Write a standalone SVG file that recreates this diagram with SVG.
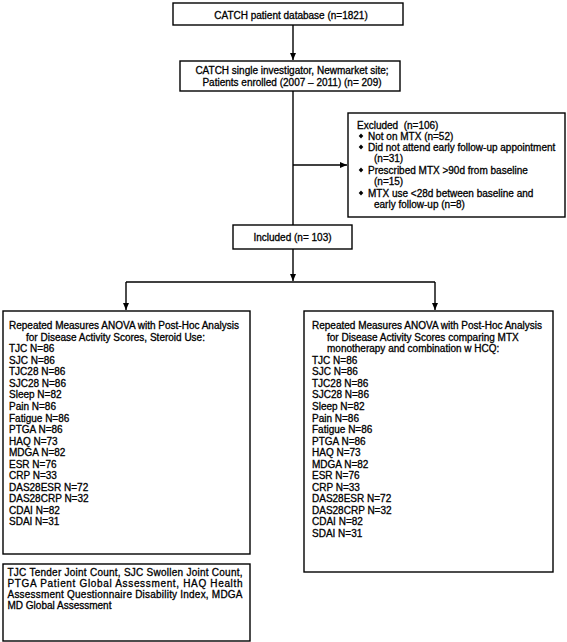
<svg xmlns="http://www.w3.org/2000/svg" width="567" height="642" viewBox="0 0 567 642">
<style>
.box{fill:#fff;stroke:#000;stroke-width:1.4}
.t{font-family:"Liberation Sans",Arial,sans-serif;font-size:10px;fill:#000;stroke:#000;stroke-width:0.3}
.c{text-anchor:middle}
.ln{stroke:#000;stroke-width:1.4;fill:none}
</style>
<defs>
<marker id="ah" markerWidth="8" markerHeight="8" refX="7" refY="4" orient="auto" markerUnits="userSpaceOnUse">
<path d="M0,1 L7,4 L0,7 Z" fill="#000"/>
</marker>
<polygon id="dm" points="0,-2.5 2.3,0 0,2.5 -2.3,0" fill="#000"/>
</defs>
<rect width="567" height="642" fill="#fff"/>
<g id="connectors">
<line class="ln" x1="293" y1="25" x2="293" y2="60" marker-end="url(#ah)"/>
<line class="ln" x1="293" y1="91" x2="293" y2="225"/>
<line class="ln" x1="293" y1="165" x2="347" y2="165" marker-end="url(#ah)"/>
<line class="ln" x1="293" y1="249" x2="293" y2="281" marker-end="url(#ah)"/>
<line class="ln" x1="126" y1="282" x2="435" y2="282"/>
<line class="ln" x1="126" y1="282" x2="126" y2="310" marker-end="url(#ah)"/>
<line class="ln" x1="435" y1="282" x2="435" y2="310" marker-end="url(#ah)"/>
</g>
<g id="database">
<rect class="box" x="173" y="3" width="230" height="22"/>
<text class="t c" x="291" y="18.6">CATCH patient database (n=1821)</text>
</g>
<g id="single-investigator">
<rect class="box" x="180" y="61" width="220" height="30"/>
<text class="t c" x="292" y="73.6">CATCH single investigator, Newmarket site;</text>
<text class="t c" x="292" y="85.6">Patients enrolled (2007 – 2011) (n= 209)</text>
</g>
<g id="excluded">
<rect class="box" x="348" y="113" width="217" height="104"/>
<text class="t" x="357" y="128.6" xml:space="preserve">Excluded  (n=106)</text>
<use href="#dm" x="361" y="136"/>
<text class="t" x="368" y="139.6">Not on MTX (n=52)</text>
<use href="#dm" x="361" y="147"/>
<text class="t" x="368" y="150.6">Did not attend early follow-up appointment</text>
<text class="t" x="374" y="161.6">(n=31)</text>
<use href="#dm" x="361" y="170"/>
<text class="t" x="368" y="173.6">Prescribed MTX &gt;90d from baseline</text>
<text class="t" x="374" y="184.6">(n=15)</text>
<use href="#dm" x="361" y="193"/>
<text class="t" x="368" y="196.6">MTX use &lt;28d between baseline and</text>
<text class="t" x="374" y="207.6">early follow-up (n=8)</text>
</g>
<g id="included">
<rect class="box" x="233" y="225" width="119" height="24"/>
<text class="t c" x="292.5" y="240.6">Included (n= 103)</text>
</g>
<g id="steroid-analysis">
<rect class="box" x="3" y="311" width="247" height="243"/>
<text class="t" x="9" y="329.1">Repeated Measures ANOVA with Post-Hoc Analysis</text>
<text class="t" x="26" y="340.6">for Disease Activity Scores, Steroid Use:</text>
<text class="t" x="9" y="352.2">TJC N=86</text>
<text class="t" x="9" y="363.7">SJC N=86</text>
<text class="t" x="9" y="375.3">TJC28 N=86</text>
<text class="t" x="9" y="386.8">SJC28 N=86</text>
<text class="t" x="9" y="398.4">Sleep N=82</text>
<text class="t" x="9" y="409.9">Pain N=86</text>
<text class="t" x="9" y="421.5">Fatigue N=86</text>
<text class="t" x="9" y="433.0">PTGA N=86</text>
<text class="t" x="9" y="444.6">HAQ N=73</text>
<text class="t" x="9" y="456.1">MDGA N=82</text>
<text class="t" x="9" y="467.7">ESR N=76</text>
<text class="t" x="9" y="479.2">CRP N=33</text>
<text class="t" x="9" y="490.8">DAS28ESR N=72</text>
<text class="t" x="9" y="502.3">DAS28CRP N=32</text>
<text class="t" x="9" y="513.9">CDAI N=82</text>
<text class="t" x="9" y="525.4">SDAI N=31</text>
</g>
<g id="hcq-analysis">
<rect class="box" x="304" y="311" width="249" height="261"/>
<text class="t" x="312" y="329.1">Repeated Measures ANOVA with Post-Hoc Analysis</text>
<text class="t" x="327" y="340.6">for Disease Activity Scores comparing MTX</text>
<text class="t" x="327" y="352.2">monotherapy and combination w HCQ:</text>
<text class="t" x="312" y="363.7">TJC N=86</text>
<text class="t" x="312" y="375.3">SJC N=86</text>
<text class="t" x="312" y="386.8">TJC28 N=86</text>
<text class="t" x="312" y="398.4">SJC28 N=86</text>
<text class="t" x="312" y="409.9">Sleep N=82</text>
<text class="t" x="312" y="421.5">Pain N=86</text>
<text class="t" x="312" y="433.0">Fatigue N=86</text>
<text class="t" x="312" y="444.6">PTGA N=86</text>
<text class="t" x="312" y="456.1">HAQ N=73</text>
<text class="t" x="312" y="467.7">MDGA N=82</text>
<text class="t" x="312" y="479.2">ESR N=76</text>
<text class="t" x="312" y="490.8">CRP N=33</text>
<text class="t" x="312" y="502.3">DAS28ESR N=72</text>
<text class="t" x="312" y="513.9">DAS28CRP N=32</text>
<text class="t" x="312" y="525.4">CDAI N=82</text>
<text class="t" x="312" y="537.0">SDAI N=31</text>
</g>
<g id="footnote">
<rect class="box" x="3" y="564" width="247" height="77"/>
<text class="t" x="7.5" y="575.6" textLength="235" lengthAdjust="spacing">TJC Tender Joint Count, SJC Swollen Joint Count,</text>
<text class="t" x="7.5" y="586.6" textLength="235" lengthAdjust="spacing">PTGA Patient Global Assessment, HAQ Health</text>
<text class="t" x="7.5" y="597.6" textLength="235" lengthAdjust="spacing">Assessment Questionnaire Disability Index, MDGA</text>
<text class="t" x="7.5" y="608.6">MD Global Assessment</text>
</g>
</svg>
